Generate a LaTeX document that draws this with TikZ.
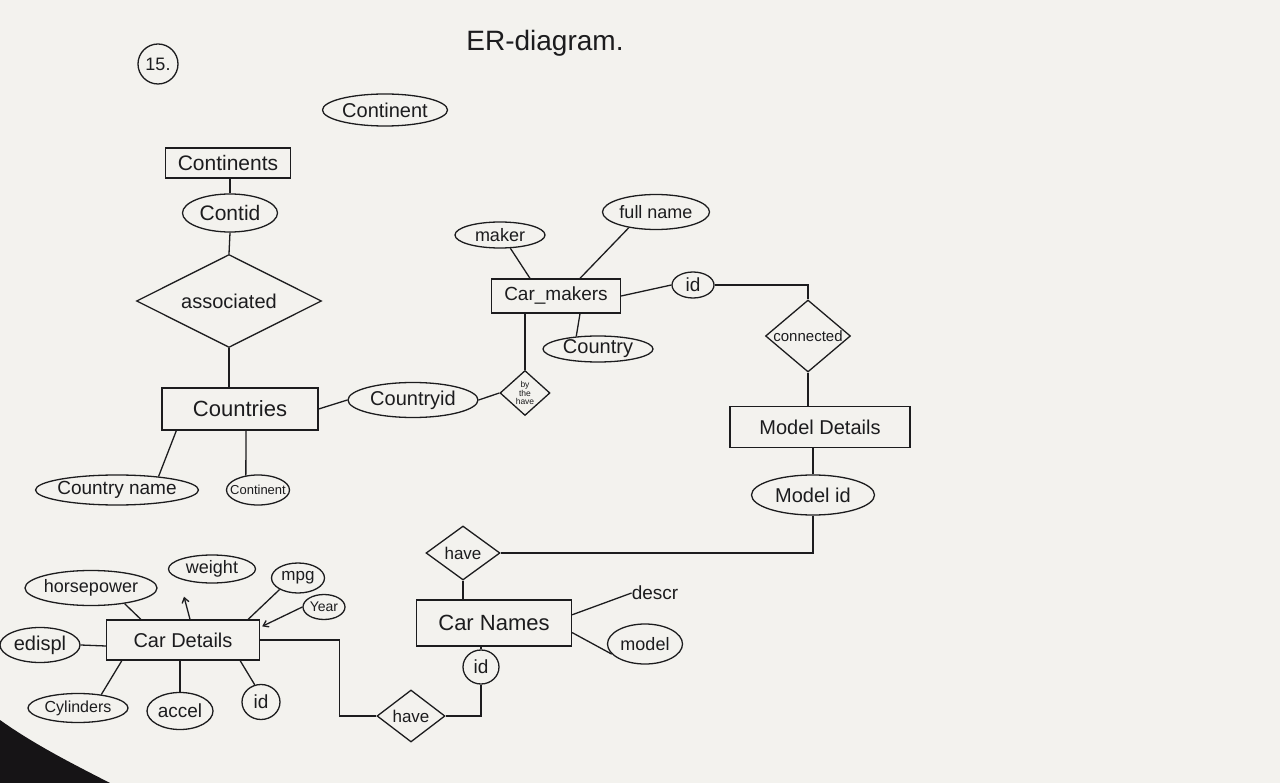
\documentclass[tikz,border=0pt]{standalone}
\usepackage{fontspec}
\setmainfont{Liberation Sans}
\usetikzlibrary{shapes.geometric,calc,arrows.meta}
\definecolor{paper}{RGB}{243,242,238}
\definecolor{ink}{RGB}{28,28,30}
\definecolor{shadow}{RGB}{22,20,22}
\tikzset{
  ent/.style={draw=ink, line width=1.3pt, rectangle, inner sep=0pt, text=ink},
  attr/.style={draw=ink, line width=1.3pt, ellipse, inner sep=0pt, text=ink},
  rel/.style={draw=ink, line width=1.3pt, diamond, inner sep=0pt, text=ink},
  conn/.style={draw=ink, line width=1.3pt},
  lbl/.style={text=ink, inner sep=0pt},
  tip/.style={-{Straight Barb[length=5pt,width=7pt]}},
  fs/.style={font=\fontsize{#1}{#1}\selectfont}
}
\begin{document}
\begin{tikzpicture}[x=1pt,y=-1pt,fs=18]
\fill[paper] (0,0) rectangle (1280,783);
\useasboundingbox (0,0) rectangle (1280,783);
\fill[shadow] (0,720) .. controls (35,745) and (75,765) .. (110,783) -- (0,783) -- cycle;

% title
\node[draw=ink, line width=1.3pt, circle, minimum size=40pt, inner sep=0pt, text=ink, fs=18] (n15) at (158,64) {15.};
\node[lbl, fs=28] (title) at (545,43) {ER-diagram.};

% top part
\node[attr, minimum width=125pt, minimum height=32pt, fs=20] (cont1) at (385,110) {Continent};
\node[ent, minimum width=125pt, minimum height=30pt, fs=21] (continents) at (228,163) {Continents};
\node[attr, minimum width=95pt, minimum height=38pt, fs=21] (contid) at (230,213) {Contid};
\node[rel, minimum width=185pt, minimum height=93pt, fs=20] (assoc) at (229,301) {\makebox[0pt]{associated}};
\node[ent, minimum width=156pt, minimum height=42pt, fs=22] (countries) at (240,409) {Countries};
\node[attr, minimum width=130pt, minimum height=35pt, fs=20] (countryid) at (413,400) {Countryid};
\node[rel, minimum width=50pt, minimum height=45pt, fs=8, align=center] (bythe) at (525,393) {\makebox[0pt]{\parbox{20pt}{\centering\fontsize{8.5}{7.5}\selectfont by\\the\\have}}};
\node[attr, minimum width=163pt, minimum height=30pt, fs=19] (cname) at (117,490) {\makebox[0pt]{Country name}};
\node[attr, minimum width=63pt, minimum height=30pt, fs=13] (cont2) at (258,490) {\makebox[0pt]{Continent}};

% car makers
\node[ent, minimum width=129pt, minimum height=34pt, fs=19] (carmakers) at (556,296) {Car\_makers};
\node[attr, minimum width=90pt, minimum height=26pt, fs=18] (maker) at (500,235) {\makebox[0pt]{maker}};
\node[attr, minimum width=107pt, minimum height=35pt, fs=18] (fullname) at (656,212) {full name};
\node[attr, minimum width=110pt, minimum height=26pt, fs=20] (country) at (598,349) {\makebox[0pt]{Country}};
\node[attr, minimum width=42pt, minimum height=26pt, fs=19] (cmid) at (693,285) {\makebox[0pt]{id}};
\node[rel, minimum width=85pt, minimum height=72pt, fs=15] (connected) at (808,336) {\makebox[0pt]{connected}};
\node[ent, minimum width=180pt, minimum height=41pt, fs=20] (modeldet) at (820,427) {Model Details};
\node[attr, minimum width=123pt, minimum height=40pt, fs=20] (modelid) at (813,495) {Model id};

% car names
\node[rel, minimum width=74pt, minimum height=54pt, fs=17] (have1) at (463,553) {\makebox[0pt]{have}};
\node[ent, minimum width=155pt, minimum height=46pt, fs=22] (carnames) at (494,623) {Car Names};
\node[lbl, fs=19] (descr) at (655,593) {descr};
\node[attr, minimum width=75pt, minimum height=40pt, fs=18] (model) at (645,644) {model};
\node[attr, minimum width=36pt, minimum height=34pt, fs=19] (cnid) at (481,667) {id};
\node[rel, minimum width=68pt, minimum height=52pt, fs=17] (have2) at (411,716) {\makebox[0pt]{have}};

% car details
\node[ent, minimum width=153pt, minimum height=40pt, fs=20] (cardet) at (183,640) {Car Details};
\node[attr, minimum width=132pt, minimum height=35pt, fs=18] (hp) at (91,588) {\makebox[0pt]{horsepower}};
\node[attr, minimum width=87pt, minimum height=28pt, fs=18] (weight) at (212,569) {\makebox[0pt]{weight}};
\node[attr, minimum width=53pt, minimum height=30pt, fs=17] (mpg) at (298,578) {\makebox[0pt]{mpg}};
\node[attr, minimum width=42pt, minimum height=25pt, fs=14] (year) at (324,607) {\makebox[0pt]{Year}};
\node[attr, minimum width=80pt, minimum height=35pt, fs=20] (edispl) at (40,645) {\makebox[0pt]{edispl}};
\node[attr, minimum width=100pt, minimum height=29pt, fs=16] (cyl) at (78,708) {\makebox[0pt]{Cylinders}};
\node[attr, minimum width=66pt, minimum height=37pt, fs=19] (accel) at (180,711) {\makebox[0pt]{accel}};
\node[attr, minimum width=38pt, minimum height=35pt, fs=19] (cdid) at (261,702) {id};

% connectors: top
\draw[conn] (contid.north) -- (contid.north |- continents.south);
\draw[conn] (contid.south) -- (assoc.north);
\draw[conn] (assoc.south) -- (assoc.south |- countries.north);
\draw[conn] (countries.east) -- (countryid.west);
\draw[conn] (countryid.east) -- (bythe.west);
\draw[conn] (bythe.north) -- (bythe.north |- carmakers.south);
\draw[conn] (cname.18) -- ($(countries.south west)+(15,0)$);
\draw[conn] (cont2.130) -- ($(countries.south)+(6,0)$);

% carmakers
\draw[conn] (maker.-52) -- ($(carmakers.north)+(-26,0)$);
\draw[conn] (fullname.-150) -- ($(carmakers.north)+(24,0)$);
\draw[conn] (country.150) -- ($(carmakers.south)+(24,0)$);
\draw[conn] (carmakers.east) -- (cmid.west);
\draw[conn] (cmid.east) -| (connected.north);
\draw[conn] (connected.south) -- (connected.south |- modeldet.north);
\draw[conn] (modelid.north) -- (modelid.north |- modeldet.south);
\draw[conn] (modelid.south) |- (have1.east);

% car names
\draw[conn] (have1.south) -- (have1.south |- carnames.north);
\draw[conn] (carnames.6) -- (descr.west);
\draw[conn] (carnames.-7) -- (model.197);
\draw[conn] (cnid.north) -- (cnid.north |- carnames.south);
\draw[conn] (cnid.south) |- (have2.east);
\draw[conn] (have2.west) -- ++(-37,0) |- (cardet.east);

% car details
\draw[conn] (hp.-25) -- ($(cardet.north west)+(35,0)$);
\draw[conn,tip] ($(cardet.north)+(7,0)$) -- ($(weight.south)+(-28,13)$);
\draw[conn] (mpg.212) -- ($(cardet.north east)+(-12,0)$);
\draw[conn,tip] (year.west) -- ($(cardet.north east)+(2,7)$);
\draw[conn] (edispl.east) -- ($(cardet.west)+(0,6)$);
\draw[conn] (cyl.30) -- ($(cardet.south west)+(16,0)$);
\draw[conn] (accel.north) -- (accel.north |- cardet.south);
\draw[conn] (cdid.110) -- ($(cardet.south east)+(-20,0)$);
\end{tikzpicture}
\end{document}
